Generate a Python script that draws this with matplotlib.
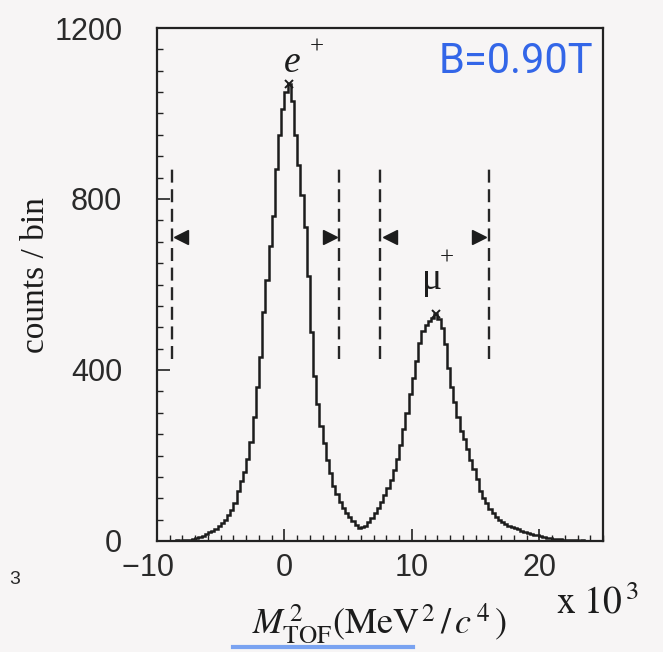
import numpy as np
import matplotlib
matplotlib.use('Agg')
import matplotlib.pyplot as plt
from matplotlib.ticker import MultipleLocator, FixedLocator, FuncFormatter
from matplotlib.lines import Line2D

# M_TOF^2 histogram, 0.25 wide bins from -10 to 25 (x 10^3 MeV^2/c^4)
bin_lo, bin_hi, bin_w = -10.0, 25.0, 0.25
counts = [
    0, 1, 0, 1, 1, 0, 2, 1,                      # -10 .. -8
    2, 3, 3, 5, 6, 9, 12, 16,                    # -8 .. -6
    20, 24, 29, 36, 43, 50, 60, 72,              # -6 .. -4
    88, 118, 140, 162, 192, 232, 290, 360,       # -4 .. -2
    430, 535, 610, 690, 760, 870, 950, 1010,     # -2 .. 0
    1050, 1070, 1030, 950, 880, 810, 735, 620,   # 0 .. 2
    490, 385, 320, 270, 230, 190, 158, 128,      # 2 .. 4
    110, 92, 78, 66, 56, 46, 38, 31,             # 4 .. 6
    32, 36, 44, 54, 66, 78, 92, 108,             # 6 .. 8
    124, 142, 166, 192, 225, 262, 300, 345,      # 8 .. 10
    382, 420, 462, 492, 505, 515, 522, 530,      # 10 .. 12
    520, 498, 460, 405, 360, 325, 290, 258,      # 12 .. 14
    238, 215, 190, 168, 145, 118, 100, 88,       # 14 .. 16
    76, 65, 56, 50, 44, 39, 35, 32,              # 16 .. 18
    30, 27, 24, 21, 18, 16, 14, 13,              # 18 .. 20
    11, 9, 8, 6, 5, 5, 4, 3,                     # 20 .. 22
    3, 2, 2, 2, 1, 2, 1, 1, 0, 1, 0, 0,          # 22 .. 25
]

# selection cuts (dashed lines) and the side each arrow points to
cuts = [-8.85, 4.3, 7.5, 16.05]
cut_dirs = [1, -1, 1, -1]
cut_lo, cut_hi = 425, 875
arrow_level = 712

bg = '#f7f5f5'
ink = '#1c1c1c'
plt.rcParams['mathtext.fontset'] = 'stix'

edges = np.arange(bin_lo, bin_hi + bin_w / 2, bin_w)
counts = np.array(counts)
centers = edges[:-1] + bin_w / 2

fig = plt.figure(figsize=(6.63, 6.52), dpi=100, facecolor=bg)
ax = fig.add_axes([157 / 663, 1 - 541 / 652, 446 / 663, 513 / 652])
ax.set_facecolor(bg)

ax.stairs(counts, edges, color=ink, lw=1.8)

# peaks: small cross on top plus particle label
serif = 'Liberation Serif'
peaks = [
    (centers < 5, 'e', dict(style='italic', fontsize=27), (-4, 8.5), (20, 26)),
    (centers > 6, 'μ', dict(fontsize=27), (-10, 18), (8, 40)),
]
for sel, name, kw, off_name, off_plus in peaks:
    i = np.argmax(np.where(sel, counts, -1))
    xy = (centers[i], counts[i])
    ax.plot(*xy, marker='x', color=ink, ms=6, mew=1.4)
    ax.annotate(name, xy, xytext=off_name, textcoords='offset points',
                ha='left', va='baseline', family=serif, color=ink, **kw)
    ax.annotate('+', xy, xytext=off_plus, textcoords='offset points',
                ha='center', va='center', family=serif, fontsize=18, color=ink)

for c, d in zip(cuts, cut_dirs):
    ax.plot([c, c], [cut_lo, cut_hi], color='#262626', lw=1.7, dashes=(5.5, 2.8))
    ax.plot(c + 0.75 * d, arrow_level, marker='<' if d > 0 else '>',
            color=ink, ms=10)

# hand-written field value, in blue pen
ax.text(0.805, 0.935, 'B=0.90T', transform=ax.transAxes, ha='center', va='center',
        fontsize=30, color='#3366e8', family='Roboto')

ax.set_xlim(bin_lo, bin_hi)
ax.set_ylim(0, 1200)
ax.xaxis.set_major_locator(FixedLocator([-10, 0, 10, 20]))
ax.xaxis.set_minor_locator(MultipleLocator(1))
ax.yaxis.set_major_locator(MultipleLocator(400))
ax.yaxis.set_minor_locator(MultipleLocator(50))
# the minus sign hangs to the left of the tick, digits stay centred
ax.xaxis.set_major_formatter(FuncFormatter(
    lambda v, p: f'\u2212{abs(v):g}\u2007' if v < 0 else f'{v:g}'))
ax.tick_params(which='both', direction='in', top=False, right=False, color='#222222')
ax.tick_params(which='major', length=9, width=1.2, labelsize=22, labelcolor='#2a2a2a')
ax.tick_params(which='minor', length=4, width=1.0)
ax.tick_params(axis='y', pad=25)
ax.tick_params(axis='x', pad=9)
for lab in ax.get_xticklabels() + ax.get_yticklabels():
    lab.set_family('Liberation Sans')
for s in ax.spines.values():
    s.set_linewidth(1.6)
    s.set_color('#222222')

fig.text(36 / 663, 1 - 275 / 652, 'counts / bin', rotation=90, ha='center', va='center',
         fontsize=24, family=serif, color=ink)
fig.text(380 / 663, 1 - 634 / 652,
         r'$M^{\,2}_{\mathrm{TOF}}(\mathrm{MeV}^{\,2}\,/\,c^{\,4}\,)$',
         ha='center', va='baseline', fontsize=26, color=ink)
fig.text(597 / 663, 1 - 614 / 652, r'$\mathrm{x\ 10}^{\,3}$', ha='center', va='baseline',
         fontsize=27, color=ink)
fig.text(15 / 663, 1 - 580 / 652, '3', ha='center', va='center',
         fontsize=14, family='Liberation Sans', color='#2a2a2a')
fig.add_artist(Line2D([233 / 663, 413 / 663], [1 - 647 / 652, 1 - 647 / 652],
                      color='#5b8ff0', lw=3, alpha=0.8))

fig.savefig('out.png', dpi=100, facecolor=bg)
